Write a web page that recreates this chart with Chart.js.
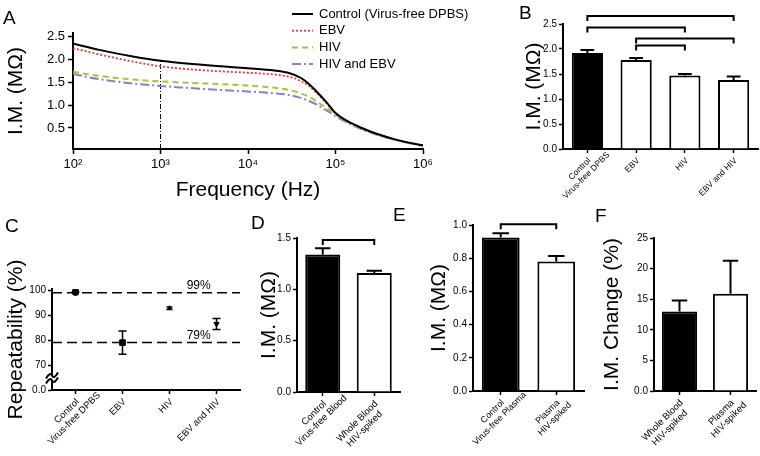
<!DOCTYPE html>
<html>
<head>
<meta charset="utf-8">
<script src="https://cdn.jsdelivr.net/npm/chart.js@4.4.1/dist/chart.umd.min.js"></script>
<style>
  body { margin: 0; background: #fff; }
  #fig { position: relative; width: 760px; height: 456px; overflow: hidden; background: #fff;
         font-family: Arial, 'Liberation Sans', sans-serif; }
  #fig canvas { position: absolute; }
  .lbl { position: absolute; font-size: 19px; line-height: 1; color: #000; z-index: 2; }
</style>
</head>
<body>
<div id="fig">
  <canvas id="chartA" width="470" height="210" style="left:0;top:0"></canvas>
  <canvas id="chartB" width="242" height="210" style="left:518px;top:0"></canvas>
  <canvas id="chartC" width="245" height="241" style="left:0;top:215px"></canvas>
  <canvas id="chartD" width="152" height="241" style="left:253px;top:215px"></canvas>
  <canvas id="chartE" width="162" height="241" style="left:423px;top:215px"></canvas>
  <canvas id="chartF" width="164" height="241" style="left:596px;top:215px"></canvas>
  <div class="lbl" style="left:3px;top:8px">A</div>
  <div class="lbl" style="left:519px;top:3px">B</div>
  <div class="lbl" style="left:5px;top:216px">C</div>
  <div class="lbl" style="left:251px;top:213px">D</div>
  <div class="lbl" style="left:393px;top:205px">E</div>
  <div class="lbl" style="left:595px;top:206px">F</div>
</div>
<script>
// --- Panel A: impedance magnitude vs frequency ---
const freqHz = [100, 200, 500, 1000, 2000, 5000, 10000, 20000, 30000, 40000, 50000, 60000, 80000, 100000, 200000, 500000, 1000000];
const controlIM = [2.35, 2.21, 2.06, 1.97, 1.91, 1.85, 1.81, 1.76, 1.70, 1.60, 1.46, 1.31, 1.05, 0.83, 0.50, 0.24, 0.12];
const ebvIM = [2.25, 2.11, 1.95, 1.85, 1.79, 1.74, 1.71, 1.67, 1.62, 1.53, 1.42, 1.28, 1.03, 0.82, 0.49, 0.24, 0.12];
const hivIM = [1.73, 1.64, 1.56, 1.52, 1.49, 1.46, 1.43, 1.38, 1.33, 1.26, 1.18, 1.09, 0.93, 0.79, 0.48, 0.23, 0.11];
const hivEbvIM = [1.68, 1.57, 1.47, 1.42, 1.38, 1.33, 1.30, 1.26, 1.22, 1.16, 1.09, 1.02, 0.88, 0.76, 0.47, 0.23, 0.11];
const seriesNamesA = ['Control (Virus-free DPBS)', 'EBV', 'HIV', 'HIV and EBV'];
const freqTicks = [100, 1000, 10000, 100000, 1000000];
const freqTickLabels = ['10\u00B2', '10\u00B3', '10\u2074', '10\u2075', '10\u2076'];
const imTicksA = [0.5, 1.0, 1.5, 2.0, 2.5];
const markerFreq = 1000;

// --- Panel B ---
const bCategories = [['Control', 'Virus-free DPBS'], 'EBV', 'HIV', 'EBV and HIV'];
const bMeans = [1.92, 1.78, 1.47, 1.38];
const bErr = [0.06, 0.04, 0.03, 0.07];
const bBrackets = [[0, 3, 2.66], [0, 2, 2.43], [1, 3, 2.21], [1, 2, 2.07]];
const bTicks = [0, 0.5, 1.0, 1.5, 2.0, 2.5];

// --- Panel C: repeatability ---
const cCategories = [['Control', 'Virus-free DPBS'], 'EBV', 'HIV', 'EBV and HIV'];
const cMeans = [99.3, 79.0, 92.8, 86.5];
const cErr = [0.3, 4.7, 0.5, 2.2];
const cRefLevels = [99, 79];
const cRefLabels = ['99%', '79%'];
const cTicks = [60, 70, 80, 90, 100];
const cTickLabels = ['0.0', '70', '80', '90', '100'];

// --- Panel D: whole blood ---
const dCategories = [['Control', 'Virus-free Blood'], ['Whole Blood', 'HIV-spiked']];
const dMeans = [1.34, 1.16];
const dErr = [0.06, 0.02];
const dBrackets = [[0, 1, 1.48]];
const dTicks = [0, 0.5, 1.0, 1.5];

// --- Panel E: plasma ---
const eCategories = [['Control', 'Virus-free Plasma'], ['Plasma', 'HIV-spiked']];
const eMeans = [0.925, 0.78];
const eErr = [0.025, 0.033];
const eBrackets = [[0, 1, 1.005]];
const eTicks = [0, 0.2, 0.4, 0.6, 0.8, 1.0];

// --- Panel F: I.M. change ---
const fCategories = [['Whole Blood', 'HIV-spiked'], ['Plasma', 'HIV-spiked']];
const fMeans = [13.0, 15.9];
const fErr = [1.8, 5.4];
const fTicks = [0, 5, 10, 15, 20, 25];

const FONT = "Arial, 'Liberation Sans', sans-serif";
Chart.defaults.font.family = FONT;
Chart.defaults.color = '#000';

const tickGrid = { display: true, drawOnChartArea: false, drawTicks: true, tickLength: 4, tickWidth: 1.5, tickColor: '#000' };
const axisBorder = { display: true, color: '#000', width: 2 };

function yAxis(min, max, ticks, fmt, title, width) {
    return {
        min: min, max: max,
        afterBuildTicks: s => { s.ticks = ticks.map(v => ({ value: v })); },
        ticks: { callback: fmt, font: { size: 10 }, color: '#000', padding: 2 },
        grid: tickGrid,
        border: axisBorder,
        title: { display: true, text: title, font: { size: 21 }, color: '#000', padding: { top: 4, bottom: 0 } },
        afterFit: s => { s.width = width; }
    };
}

// category axis: tick marks only, the slanted labels are drawn by rotLabels
function xCategory(height) {
    return {
        type: 'category', offset: true,
        grid: Object.assign({}, tickGrid, { offset: false }),
        border: axisBorder,
        ticks: { display: false, autoSkip: false },
        afterFit: s => { s.height = height; }
    };
}

// 45 degree labels, lines centred on each other (Prism style)
const rotLabels = {
    id: 'rotLabels',
    afterDraw(chart, args, opts) {
        const sx = chart.scales.x;
        const ctx = chart.ctx;
        const size = opts.size || 9.5;
        const lh = size * 1.1;
        ctx.save();
        ctx.font = size + 'px ' + FONT;
        ctx.fillStyle = '#000';
        ctx.textAlign = 'center';
        ctx.textBaseline = 'middle';
        chart.data.labels.forEach((lab, i) => {
            const lines = Array.isArray(lab) ? lab : [lab];
            const cx = -3 - ctx.measureText(lines[0]).width / 2;
            ctx.save();
            ctx.translate(sx.getPixelForTick(i), sx.top + 4);
            ctx.rotate(-Math.PI / 4);
            lines.forEach((t, k) => ctx.fillText(t, cx, 6 + k * lh));
            ctx.restore();
        });
        ctx.restore();
    }
};

// error bars (up only) and significance brackets for bar panels
const barExtras = {
    id: 'barExtras',
    afterDatasetsDraw(chart, args, opts) {
        const ctx = chart.ctx;
        const meta = chart.getDatasetMeta(0);
        const y = chart.scales.y;
        const values = chart.data.datasets[0].data;
        ctx.save();
        ctx.strokeStyle = '#000';
        ctx.lineWidth = 2;
        (opts.errors || []).forEach((e, i) => {
            const bar = meta.data[i];
            const yBase = y.getPixelForValue(values[i]);
            const yTop = y.getPixelForValue(values[i] + e);
            const half = bar.width * 0.22;
            ctx.beginPath();
            ctx.moveTo(bar.x, yBase);
            ctx.lineTo(bar.x, yTop);
            ctx.moveTo(bar.x - half, yTop);
            ctx.lineTo(bar.x + half, yTop);
            ctx.stroke();
        });
        (opts.brackets || []).forEach(([a, b, v]) => {
            const x1 = meta.data[a].x, x2 = meta.data[b].x;
            const yy = y.getPixelForValue(v);
            ctx.beginPath();
            ctx.moveTo(x1, yy + 5);
            ctx.lineTo(x1, yy);
            ctx.lineTo(x2, yy);
            ctx.lineTo(x2, yy + 5);
            ctx.stroke();
        });
        ctx.restore();
    }
};

function barPanel(id, cats, means, errs, brackets, fills, yMin, yMax, ticks, fmt, title, box) {
    return new Chart(document.getElementById(id), {
        type: 'bar',
        data: {
            labels: cats,
            datasets: [{
                data: means,
                backgroundColor: fills,
                borderColor: '#000',
                borderWidth: 2,
                categoryPercentage: 1,
                barPercentage: box.barPct
            }]
        },
        options: {
            responsive: false, animation: false,
            layout: { padding: { top: box.top, right: box.right, left: 0, bottom: 0 } },
            plugins: {
                legend: { display: false }, tooltip: { enabled: false },
                barExtras: { errors: errs, brackets: brackets },
                rotLabels: { size: box.labelSize }
            },
            scales: {
                x: xCategory(box.xHeight),
                y: yAxis(yMin, yMax, ticks, fmt, title, box.yWidth)
            }
        },
        plugins: [barExtras, rotLabels]
    });
}

// --- Panel A chart ---
const pairs = (xs, ys) => xs.map((x, i) => ({ x: x, y: ys[i] }));
const yMinA = 0.04, yMaxA = 2.58;

const legendA = {
    id: 'legendA',
    afterDraw(chart) {
        const ctx = chart.ctx;
        ctx.save();
        ctx.font = '13px ' + FONT;
        ctx.textBaseline = 'middle';
        chart.data.datasets.filter(d => d.label).forEach((d, i) => {
            const y = 14 + i * 16.7;
            ctx.strokeStyle = d.borderColor;
            ctx.lineWidth = d.borderWidth;
            ctx.setLineDash(d.borderDash || []);
            ctx.beginPath();
            ctx.moveTo(292, y);
            ctx.lineTo(313, y);
            ctx.stroke();
            ctx.setLineDash([]);
            ctx.fillStyle = '#000';
            ctx.fillText(d.label, 319, y);
        });
        ctx.restore();
    }
};

const lineStyle = { pointRadius: 0, fill: false, cubicInterpolationMode: 'monotone' };
new Chart(document.getElementById('chartA'), {
    type: 'line',
    data: {
        datasets: [
            Object.assign({ label: seriesNamesA[0], data: pairs(freqHz, controlIM), borderColor: '#000', borderWidth: 2 }, lineStyle),
            Object.assign({ label: seriesNamesA[1], data: pairs(freqHz, ebvIM), borderColor: '#e53935', borderWidth: 1.8, borderDash: [2, 2] }, lineStyle),
            Object.assign({ label: seriesNamesA[2], data: pairs(freqHz, hivIM), borderColor: '#9cc83c', borderWidth: 2, borderDash: [6, 4] }, lineStyle),
            Object.assign({ label: seriesNamesA[3], data: pairs(freqHz, hivEbvIM), borderColor: '#8b7fc8', borderWidth: 2, borderDash: [9, 3, 2, 3] }, lineStyle),
            { label: '', data: [{ x: markerFreq, y: yMinA }, { x: markerFreq, y: controlIM[freqHz.indexOf(markerFreq)] }],
              borderColor: '#000', borderWidth: 1, borderDash: [5, 2, 1, 2], pointRadius: 0 }
        ]
    },
    options: {
        responsive: false, animation: false,
        layout: { padding: { top: 33, right: 47, left: 0, bottom: 0 } },
        plugins: { legend: { display: false }, tooltip: { enabled: false } },
        scales: {
            x: {
                type: 'logarithmic', min: 100, max: 1000000,
                afterBuildTicks: s => { s.ticks = freqTicks.map(v => ({ value: v })); },
                ticks: { callback: (v) => freqTickLabels[freqTicks.indexOf(v)], font: { size: 13 }, color: '#000', padding: 3, maxRotation: 0 },
                grid: Object.assign({}, tickGrid, { tickLength: 5 }),
                border: axisBorder,
                title: { display: true, text: 'Frequency (Hz)', font: { size: 21 }, color: '#000', padding: { top: 0, bottom: 7 } },
                afterFit: s => { s.height = 61; }
            },
            y: {
                min: yMinA, max: yMaxA,
                afterBuildTicks: s => { s.ticks = imTicksA.map(v => ({ value: v })); },
                ticks: { callback: v => v.toFixed(1), font: { size: 13 }, color: '#000', padding: 3 },
                grid: Object.assign({}, tickGrid, { tickLength: 5 }),
                border: axisBorder,
                title: { display: true, text: 'I.M. (M\u03A9)', font: { size: 21 }, color: '#000', padding: { top: 4, bottom: 0 } },
                afterFit: s => { s.width = 73; }
            }
        }
    },
    plugins: [legendA]
});

// --- Panel B ---
barPanel('chartB', bCategories, bMeans, bErr, bBrackets, ['#000', '#fff', '#fff', '#fff'],
    0, 2.5, bTicks, v => v.toFixed(1), 'I.M. (M\u03A9)',
    { top: 24, right: 2, xHeight: 61, yWidth: 45, barPct: 0.64, labelSize: 8.5 });

// --- Panel C: repeatability with reference lines and axis break ---
const repeatExtras = {
    id: 'repeatExtras',
    beforeDatasetsDraw(chart) {
        const ctx = chart.ctx;
        const area = chart.chartArea;
        const y = chart.scales.y;
        ctx.save();
        ctx.strokeStyle = '#000';
        ctx.lineWidth = 1.5;
        ctx.setLineDash([10, 5]);
        ctx.font = '12px ' + FONT;
        ctx.textAlign = 'center';
        ctx.textBaseline = 'bottom';
        cRefLevels.forEach((lvl, i) => {
            const yy = y.getPixelForValue(lvl);
            ctx.beginPath();
            ctx.moveTo(area.left, yy);
            ctx.lineTo(area.right, yy);
            ctx.stroke();
            ctx.fillStyle = '#000';
            ctx.fillText(cRefLabels[i], area.left + (area.right - area.left) * 0.78, yy - 1);
        });
        ctx.restore();
    },
    afterDatasetsDraw(chart) {
        const ctx = chart.ctx;
        const meta = chart.getDatasetMeta(0);
        const y = chart.scales.y;
        ctx.save();
        ctx.strokeStyle = '#000';
        ctx.lineWidth = 1.5;
        cErr.forEach((e, i) => {
            const x = meta.data[i].x;
            const y1 = y.getPixelForValue(cMeans[i] - e);
            const y2 = y.getPixelForValue(cMeans[i] + e);
            const cap = e < 0.4 ? 0 : (e < 1 ? 3 : 4);
            if (!cap) return;
            ctx.beginPath();
            ctx.moveTo(x, y1); ctx.lineTo(x, y2);
            ctx.moveTo(x - cap, y1); ctx.lineTo(x + cap, y1);
            ctx.moveTo(x - cap, y2); ctx.lineTo(x + cap, y2);
            ctx.stroke();
        });
        // axis break symbol
        const ax = chart.chartArea.left;
        const yb = y.getPixelForValue(65);
        ctx.fillStyle = '#fff';
        ctx.fillRect(ax - 2, yb - 2, 4, 5);
        ctx.lineWidth = 2;
        [-2, 3].forEach(d => {
            ctx.beginPath();
            ctx.moveTo(ax - 6, yb + d + 3);
            ctx.quadraticCurveTo(ax - 2, yb + d - 4, ax, yb + d);
            ctx.quadraticCurveTo(ax + 2, yb + d + 4, ax + 6, yb + d - 3);
            ctx.stroke();
        });
        ctx.restore();
    }
};

new Chart(document.getElementById('chartC'), {
    type: 'line',
    data: {
        labels: cCategories,
        datasets: [{
            data: cMeans,
            showLine: false,
            pointStyle: ['circle', 'rect', 'triangle', 'triangle'],
            rotation: [0, 0, 0, 180],
            pointRadius: [3.5, 4, 2.5, 3],
            pointBackgroundColor: '#000',
            pointBorderColor: '#000',
            pointBorderWidth: 1
        }]
    },
    options: {
        responsive: false, animation: false,
        layout: { padding: { top: 74, right: 3, left: 0, bottom: 0 } },
        plugins: { legend: { display: false }, tooltip: { enabled: false }, rotLabels: { size: 9.5 } },
        scales: {
            x: xCategory(66),
            y: yAxis(60, 100.5, cTicks, v => cTickLabels[cTicks.indexOf(v)], 'Repeatability (%)', 52)
        }
    },
    plugins: [repeatExtras, rotLabels]
});

// --- Panels D, E, F ---
barPanel('chartD', dCategories, dMeans, dErr, dBrackets, ['#000', '#fff'],
    0, 1.5, dTicks, v => v.toFixed(1), 'I.M. (M\u03A9)',
    { top: 23, right: 5, xHeight: 64, yWidth: 44, barPct: 0.68, labelSize: 9.5 });

barPanel('chartE', eCategories, eMeans, eErr, eBrackets, ['#000', '#fff'],
    0, 1.0, eTicks, v => v.toFixed(1), 'I.M. (M\u03A9)',
    { top: 10, right: 1, xHeight: 65, yWidth: 50, barPct: 0.68, labelSize: 9 });

barPanel('chartF', fCategories, fMeans, fErr, [], ['#000', '#fff'],
    0, 25, fTicks, v => (v === 0 ? '0.0' : String(v)), 'I.M. Change (%)',
    { top: 23, right: 4, xHeight: 65, yWidth: 58, barPct: 0.69, labelSize: 9.5 });
</script>
</body>
</html>
